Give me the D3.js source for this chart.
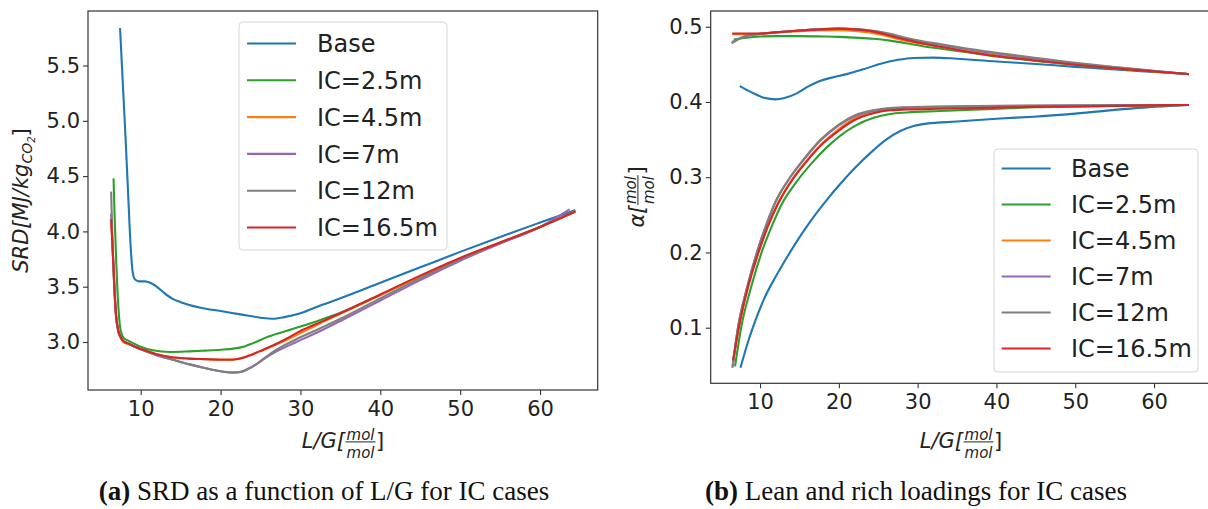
<!DOCTYPE html>
<html><head><meta charset="utf-8">
<script src="https://cdn.jsdelivr.net/npm/d3@7"></script>
<style>body{margin:0;background:#fff}svg{display:block}</style>
</head><body><div id="chart"></div>
<script>
// ---------------- DATA ----------------
const seriesNames = ["Base","IC=2.5m","IC=4.5m","IC=7m","IC=12m","IC=16.5m"];
const srdXTicks = [10,20,30,40,50,60];
const srdYTicks = [3.0,3.5,4.0,4.5,5.0,5.5];
const alphaXTicks = [10,20,30,40,50,60];
const alphaYTicks = [0.1,0.2,0.3,0.4,0.5];

// SRD [MJ/kg CO2] vs L/G
const srdBase = [[7.42,5.83],[7.75,5.35],[8.1,4.85],[8.45,4.3],[8.75,3.85],[9.0,3.63],[9.3,3.565],[9.8,3.548],[10.5,3.548],[11.2,3.535],[12.0,3.5],[13.0,3.44],[14.0,3.39],[15.0,3.36],[17.5,3.31],[20.0,3.28],[22.5,3.25],[25.0,3.22],[26.5,3.21],[28.0,3.225],[30.0,3.26],[32.5,3.33],[35.0,3.395],[40.0,3.535],[45.0,3.675],[50.0,3.815],[55.0,3.95],[60.0,4.08],[64.3,4.19]];
const srdIC25 = [[6.6,4.47],[6.75,4.1],[6.95,3.7],[7.2,3.32],[7.5,3.1],[7.9,3.035],[8.5,3.01],[9.9,2.96],[11.5,2.925],[13.7,2.91],[16,2.915],[18,2.922],[20,2.93],[21.6,2.94],[23,2.96],[24.1,2.99],[26,3.05],[28.7,3.11],[30,3.14],[32.5,3.2],[35,3.265],[40,3.425],[45,3.59],[50,3.75],[55,3.895],[60,4.04],[64.3,4.175]];
const srdIC45 = [[6.35,4.05],[6.5,3.8],[6.9,3.24],[7.2,3.09],[7.5,3.035],[7.8,3.0],[8.5,2.98],[9.5,2.95],[10.5,2.925],[12,2.89],[13.7,2.865],[16,2.85],[18,2.845],[20,2.842],[21.5,2.842],[22.5,2.852],[23.5,2.875],[25,2.918],[26.6,2.965],[28,3.01],[30,3.08],[32.5,3.17],[35,3.255],[40,3.425],[45,3.595],[50,3.755],[55,3.9],[60,4.04],[64.3,4.175]];
const srdIC7 = [[6.3,4.15],[6.5,3.82],[6.9,3.25],[7.2,3.1],[7.5,3.045],[7.8,3.01],[8.5,2.985],[9.5,2.95],[10.5,2.92],[12,2.88],[14,2.84],[16,2.8],[18,2.765],[20,2.735],[21.5,2.725],[22.5,2.73],[23.5,2.76],[24.5,2.8],[25.5,2.85],[27,2.915],[29.5,3.0],[32.5,3.1],[35,3.19],[40,3.375],[45,3.56],[50,3.735],[55,3.89],[60,4.04],[63.6,4.195]];
const srdIC12 = [[6.3,4.35],[6.45,3.95],[6.9,3.25],[7.2,3.1],[7.5,3.045],[7.8,3.01],[8.5,2.985],[9.5,2.95],[10.5,2.92],[12,2.88],[14,2.84],[16,2.8],[18,2.765],[20,2.735],[21.5,2.722],[22.5,2.728],[23.5,2.757],[24.5,2.8],[25.5,2.855],[27,2.93],[29.5,3.025],[32.5,3.125],[35,3.21],[40,3.395],[45,3.575],[50,3.745],[55,3.895],[60,4.04],[64.3,4.18]];
const srdIC165 = [[6.3,4.1],[6.5,3.83],[6.9,3.25],[7.2,3.1],[7.5,3.045],[7.8,3.01],[8.5,2.985],[9.5,2.95],[10.5,2.925],[12,2.89],[13.7,2.865],[16,2.85],[18,2.845],[20,2.84],[21.5,2.84],[22.5,2.85],[23.5,2.875],[25,2.92],[26.6,2.97],[28,3.02],[30,3.1],[32.5,3.18],[35,3.26],[40,3.43],[45,3.6],[50,3.76],[55,3.9],[60,4.04],[64.3,4.175]];

// alpha [mol/mol] vs L/G : rich (upper) and lean (lower) loadings
const richBase = [[7.55,0.4205],[8.5,0.415],[9.5,0.41],[10.5,0.4055],[12,0.4035],[13,0.405],[14.66,0.4115],[16,0.42],[17.6,0.428],[19,0.432],[21,0.437],[23,0.443],[25.2,0.4505],[27.5,0.456],[29.5,0.4585],[32,0.459],[35,0.4575],[40.5,0.4535],[45,0.4505],[50,0.4467],[53.1,0.4447],[57,0.442],[60,0.4398],[64.15,0.4371]];
const leanBase = [[7.55,0.048],[8.5,0.082],[9.5,0.112],[10.5,0.138],[12,0.168],[13.5,0.195],[15,0.22],[16.5,0.243],[18.25,0.267],[20,0.289],[22,0.312],[24.4,0.336],[26,0.35],[27.8,0.3615],[29.5,0.368],[31.15,0.3712],[35,0.374],[40.5,0.378],[44.7,0.3804],[50,0.3845],[57.3,0.3915],[64.15,0.396]];
const richIC25 = [[6.8,0.4832],[8,0.485],[10,0.487],[12,0.4875],[15,0.4875],[18,0.487],[20,0.4865],[22,0.4855],[24.4,0.484],[26.5,0.4815],[28.6,0.478],[30.5,0.4745],[32.8,0.471],[36,0.4665],[40,0.4605],[44.6,0.455],[50,0.4495],[55,0.4445],[60,0.4405],[64.3,0.4371]];
const leanIC25 = [[6.85,0.05],[7.6,0.1],[8.9,0.155],[10.2,0.2],[11.5,0.235],[12.8,0.265],[14.5,0.292],[16.5,0.318],[18.5,0.34],[20.15,0.355],[22,0.368],[24.4,0.379],[26.5,0.384],[28.6,0.386],[32.8,0.388],[40,0.391],[45,0.393],[50,0.394],[55,0.3948],[60,0.3955],[64.3,0.396]];
const richIC45 = [[6.6,0.49],[8,0.49],[10,0.4905],[12.5,0.4925],[15,0.494],[17.5,0.495],[20,0.4955],[22,0.4945],[24.4,0.4915],[26.5,0.4865],[28.6,0.481],[30.5,0.4775],[32.8,0.4735],[36,0.468],[40,0.462],[44.6,0.456],[50,0.45],[55,0.445],[60,0.4405],[64.3,0.4371]];
const leanIC45 = [[6.6,0.055],[7.3,0.1],[8.5,0.155],[9.8,0.2],[11,0.235],[12.3,0.266],[14,0.296],[16,0.323],[18,0.346],[20,0.364],[22,0.378],[24.4,0.386],[26.5,0.39],[28.6,0.391],[32.8,0.392],[40,0.393],[50,0.3945],[64.3,0.396]];
const richIC7 = [[6.55,0.48],[7.2,0.4835],[8,0.487],[9,0.489],[10,0.4905],[12.5,0.493],[15,0.495],[17.5,0.4965],[20,0.4975],[22,0.4968],[24.4,0.494],[26.5,0.4895],[28.6,0.484],[30.5,0.48],[32.8,0.476],[36,0.4705],[40,0.4645],[44.6,0.458],[50,0.4512],[55,0.446],[60,0.4412],[64.3,0.4371]];
const leanIC7 = [[6.55,0.05],[7.2,0.1],[8.4,0.155],[9.6,0.2],[10.8,0.237],[12,0.268],[13.7,0.298],[15.7,0.325],[17.7,0.349],[20,0.369],[22,0.381],[24.4,0.388],[26.5,0.3915],[28.6,0.3925],[32.8,0.3935],[40,0.3945],[50,0.3952],[64.3,0.396]];
const richIC12 = [[6.5,0.4787],[7.2,0.483],[8,0.487],[9,0.489],[10,0.4905],[12.5,0.493],[15,0.495],[17.5,0.4965],[20,0.4975],[22,0.497],[24.4,0.4945],[26.5,0.4905],[28.6,0.485],[30.5,0.481],[32.8,0.477],[36,0.4715],[40,0.4655],[44.6,0.459],[50,0.452],[55,0.4465],[60,0.4415],[64.3,0.4371]];
const leanIC12 = [[6.5,0.048],[7.2,0.1],[8.4,0.155],[9.6,0.2],[10.8,0.237],[12,0.268],[13.7,0.298],[15.7,0.326],[17.7,0.35],[20,0.37],[22,0.382],[24.4,0.389],[26.5,0.392],[28.6,0.393],[32.8,0.394],[40,0.395],[50,0.3955],[64.3,0.396]];
const richIC165 = [[6.6,0.491],[8,0.491],[10,0.491],[12.5,0.493],[15,0.495],[17.5,0.4965],[20,0.4975],[22,0.4965],[24.4,0.4935],[26.5,0.488],[28.6,0.4825],[30.5,0.478],[32.8,0.4735],[36,0.4675],[40,0.461],[44.6,0.4555],[50,0.4495],[53.1,0.4465],[57,0.443],[60,0.4405],[64.3,0.4371]];
const leanIC165 = [[6.6,0.058],[7.3,0.1],[8.5,0.155],[9.8,0.2],[11,0.235],[12.3,0.265],[14,0.295],[16,0.322],[18,0.345],[20,0.362],[22,0.376],[24.4,0.385],[26.5,0.389],[28.6,0.39],[32.8,0.391],[40,0.3925],[44.6,0.3935],[50,0.394],[55,0.3948],[60,0.3955],[64.3,0.396]];

const seriesColors = ["#1f77b4","#2ca02c","#ff7f0e","#9467bd","#7f7f7f","#d62728"];

// ---------------- DRAW ----------------
const W = 1208, H = 509;
const svg = d3.select("#chart").append("svg").attr("width", W).attr("height", H);
const FONT = "'DejaVu Sans', sans-serif";
const TXT = "#222";

function drawAxes(cfg) {
  const x = d3.scaleLinear().domain(cfg.xd).range(cfg.xr);
  const y = d3.scaleLinear().domain(cfg.yd).range(cfg.yr);
  const g = svg.append("g");
  const line = d3.line().x(d => x(d[0])).y(d => y(d[1])).curve(d3.curveMonotoneX);
  cfg.series.forEach((arrs, i) => {
    arrs.forEach(a => {
      g.append("path").attr("d", line(a)).attr("fill", "none")
        .attr("stroke", seriesColors[i]).attr("stroke-width", 2.1)
        .attr("stroke-linejoin", "round").attr("stroke-linecap", "square");
    });
  });
  const xa = g.append("g").attr("transform", `translate(0,${cfg.yr[0]})`)
    .call(d3.axisBottom(x).tickValues(cfg.xt).tickSize(5).tickPadding(6).tickFormat(d3.format("d")));
  const ya = g.append("g").attr("transform", `translate(${cfg.xr[0]},0)`)
    .call(d3.axisLeft(y).tickValues(cfg.yt).tickSize(5).tickPadding(3).tickFormat(d3.format(".1f")));
  [xa, ya].forEach(a => {
    a.select(".domain").remove();
    a.selectAll("line").attr("stroke", "#333").attr("stroke-width", 1.1);
    a.selectAll("text").style("font-family", FONT).style("font-size", "21px").attr("fill", TXT);
  });
  g.append("rect").attr("x", cfg.xr[0]).attr("y", cfg.yr[1])
    .attr("width", cfg.xr[1] - cfg.xr[0]).attr("height", cfg.yr[0] - cfg.yr[1])
    .attr("fill", "none").attr("stroke", "#333").attr("stroke-width", 1.2);
  // legend
  const L = cfg.legend;
  g.append("rect").attr("x", L.x).attr("y", L.y).attr("width", L.w).attr("height", L.h)
    .attr("rx", 4).attr("fill", "#fff").attr("fill-opacity", 0.85).attr("stroke", "#d6d6d6").attr("stroke-width", 1);
  seriesNames.forEach((n, i) => {
    const cy = L.y0 + i * L.dy;
    g.append("line").attr("x1", L.lx).attr("x2", L.lx + 49).attr("y1", cy).attr("y2", cy)
      .attr("stroke", seriesColors[i]).attr("stroke-width", 2.1);
    g.append("text").attr("x", L.tx).attr("y", cy + 8.6).text(n)
      .style("font-family", FONT).style("font-size", "24px").attr("fill", TXT);
  });
  return {x, y};
}

drawAxes({
  xd: [3.4, 67.22], xr: [88, 597.7], yd: [2.566, 5.993], yr: [390, 11],
  xt: srdXTicks, yt: srdYTicks,
  series: [[srdBase],[srdIC25],[srdIC45],[srdIC7],[srdIC12],[srdIC165]],
  legend: {x: 239, y: 22, w: 208, h: 228, lx: 247, tx: 317, y0: 43.5, dy: 36.8}
});
drawAxes({
  xd: [3.74, 67.2], xr: [710.7, 1210.8], yd: [0.0261, 0.5209], yr: [383.3, 11],
  xt: alphaXTicks, yt: alphaYTicks,
  series: [[richBase, leanBase],[richIC25, leanIC25],[richIC45, leanIC45],[richIC7, leanIC7],[richIC12, leanIC12],[richIC165, leanIC165]],
  legend: {x: 994, y: 149, w: 204, h: 223, lx: 1001.7, tx: 1071, y0: 168.5, dy: 36}
});

// math-style label with a fraction: pre + num/den + post ; baseline at local y=0, centered at x=0
function fracLabel(g, pre, num, den, post, fs, ffs) {
  const st = t => t.style("font-family", FONT).attr("fill", TXT);
  const t1 = st(g.append("text")).style("font-size", fs + "px").attr("font-style", "italic").text(pre);
  const w1 = t1.node().getComputedTextLength();
  const tn = st(g.append("text")).style("font-size", ffs + "px").attr("font-style", "italic").attr("text-anchor", "middle").text(num);
  const td = st(g.append("text")).style("font-size", ffs + "px").attr("font-style", "italic").attr("text-anchor", "middle").text(den);
  const wf = Math.max(tn.node().getComputedTextLength(), td.node().getComputedTextLength()) + 3;
  const t2 = st(g.append("text")).style("font-size", fs + "px").text(post);
  const w2 = t2.node().getComputedTextLength();
  const x0 = -(w1 + wf + w2) / 2;
  t1.attr("x", x0).attr("y", 0);
  const axisY = -0.29 * fs;
  tn.attr("x", x0 + w1 + wf / 2).attr("y", axisY - 2);
  td.attr("x", x0 + w1 + wf / 2).attr("y", axisY + 1.06 * ffs);
  g.append("line").attr("x1", x0 + w1 + 0.5).attr("x2", x0 + w1 + wf - 0.5)
    .attr("y1", axisY).attr("y2", axisY).attr("stroke", TXT).attr("stroke-width", 1);
  t2.attr("x", x0 + w1 + wf).attr("y", 0);
}

// x labels
fracLabel(svg.append("g").attr("transform", "translate(343,448)"), "L/G[", "mol", "mol", "]", 21, 15);
fracLabel(svg.append("g").attr("transform", "translate(961,448)"), "L/G[", "mol", "mol", "]", 21, 15);
// right y label
fracLabel(svg.append("g").attr("transform", "translate(644,197) rotate(-90)"), "α[", "mol", "mol", "]", 21, 15);

// left y label SRD[MJ/kg_CO2]
const yl = svg.append("text").attr("transform", "translate(28,200.5) rotate(-90)")
  .attr("text-anchor", "middle").style("font-family", FONT).style("font-size", "21px")
  .attr("font-style", "italic").attr("fill", TXT);
yl.append("tspan").text("SRD[MJ/kg");
yl.append("tspan").attr("dy", 4).style("font-size", "14px").text("CO");
yl.append("tspan").attr("dy", 3).style("font-size", "10px").text("2");
yl.append("tspan").attr("dy", -7).style("font-size", "21px").attr("font-style", "normal").text("]");

// captions
function caption(cx, tag, rest) {
  const t = svg.append("text").attr("x", cx).attr("y", 500).attr("text-anchor", "middle")
    .style("font-family", "'Liberation Serif', 'Times New Roman', serif").style("font-size", "27px").attr("fill", "#111");
  t.append("tspan").attr("font-weight", "bold").text(tag);
  t.append("tspan").text(rest);
}
caption(324, "(a)", " SRD as a function of L/G for IC cases");
caption(916, "(b)", " Lean and rich loadings for IC cases");
</script></body></html>
